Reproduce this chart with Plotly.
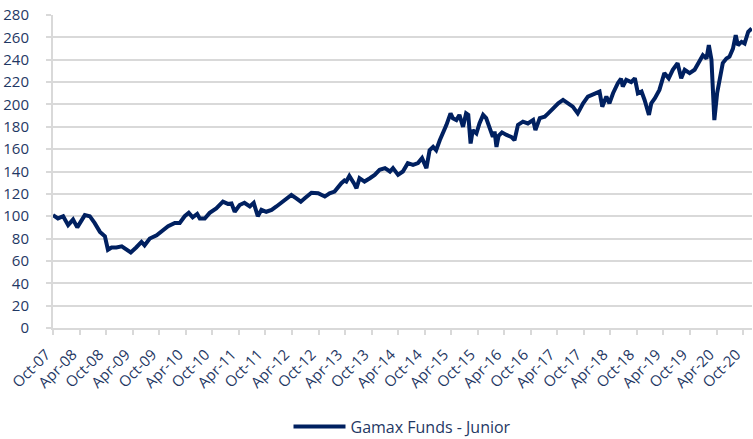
import plotly.graph_objects as go

dates = [
    "2007-10-01", "2007-11-04", "2007-12-10", "2008-01-13", "2008-02-16", "2008-03-16",
    "2008-05-07", "2008-06-10", "2008-07-13", "2008-08-19", "2008-09-22", "2008-10-13",
    "2008-11-07", "2008-12-10", "2009-01-16", "2009-02-19", "2009-03-19", "2009-04-25",
    "2009-06-01", "2009-06-22", "2009-07-28", "2009-09-13", "2009-10-16", "2009-12-01",
    "2010-01-16", "2010-02-19", "2010-03-25", "2010-04-22", "2010-05-19", "2010-06-19",
    "2010-07-07", "2010-08-10", "2010-09-13", "2010-10-28", "2010-12-13", "2011-01-16",
    "2011-02-10", "2011-03-04", "2011-04-07", "2011-05-10", "2011-06-16", "2011-07-13",
    "2011-08-10", "2011-09-04", "2011-10-07", "2011-11-13", "2011-12-16", "2012-02-01",
    "2012-03-28", "2012-05-01", "2012-06-01", "2012-06-28", "2012-08-13", "2012-09-28",
    "2012-11-13", "2012-12-16", "2013-01-19", "2013-03-07", "2013-03-28", "2013-04-10",
    "2013-05-01", "2013-06-01", "2013-06-19", "2013-07-10", "2013-08-13", "2013-09-19",
    "2013-10-22", "2013-11-25", "2014-01-01", "2014-02-04", "2014-02-25", "2014-04-01",
    "2014-05-04", "2014-06-07", "2014-07-13", "2014-08-16", "2014-09-13", "2014-10-13",
    "2014-11-04", "2014-11-28", "2014-12-19", "2015-01-13", "2015-02-04", "2015-02-28",
    "2015-03-28", "2015-04-13", "2015-05-07", "2015-05-28", "2015-06-22", "2015-07-13",
    "2015-07-28", "2015-08-13", "2015-08-28", "2015-09-22", "2015-10-13", "2015-11-07",
    "2015-11-28", "2015-12-22", "2016-01-13", "2016-01-25", "2016-02-07", "2016-02-22",
    "2016-03-16", "2016-04-16", "2016-05-19", "2016-06-10", "2016-07-04", "2016-08-07",
    "2016-09-10", "2016-10-16", "2016-11-01", "2016-12-01", "2017-01-04", "2017-01-28",
    "2017-03-01", "2017-04-07", "2017-05-10", "2017-06-13", "2017-07-16", "2017-08-19",
    "2017-09-25", "2017-10-28", "2017-12-13", "2018-01-16", "2018-02-04", "2018-03-04",
    "2018-03-25", "2018-04-19", "2018-05-22", "2018-06-13", "2018-06-25", "2018-07-19",
    "2018-08-22", "2018-09-16", "2018-10-07", "2018-11-01", "2018-11-22", "2018-12-22",
    "2019-01-07", "2019-02-01", "2019-03-04", "2019-04-07", "2019-05-07", "2019-06-04",
    "2019-07-07", "2019-08-01", "2019-08-25", "2019-09-28", "2019-11-01", "2019-12-04",
    "2019-12-28", "2020-01-22", "2020-02-07", "2020-02-25", "2020-03-07", "2020-03-16",
    "2020-04-04", "2020-04-22", "2020-05-13", "2020-06-07", "2020-06-28", "2020-07-22",
    "2020-08-10", "2020-08-25", "2020-09-19", "2020-10-10", "2020-11-04", "2020-11-28",
]

values = [
    101, 98, 100, 92, 97, 90,
    101, 100, 94, 86, 82, 70,
    72, 72, 73, 70, 67.6, 72,
    77, 74, 80, 83, 86, 91,
    94, 94, 100, 103, 99, 102,
    98, 98, 103, 107, 113, 111,
    111.5, 104, 110, 112, 108.7, 112,
    100, 105.7, 104, 105.7, 108.7, 113,
    119, 116, 113, 116, 121, 120.5,
    117.6, 120.5, 122, 129.6, 132, 131,
    136, 129.6, 125, 134, 131, 134,
    137, 141.5, 143, 140, 143, 137,
    140, 147.5, 146, 147.5, 152, 143,
    159, 162, 159, 168, 174, 181.7,
    192, 187.7, 186, 190.6, 180, 192,
    190.6, 165, 177, 174, 183, 190.6,
    187.7, 180, 171, 175.7, 162, 172,
    175, 172.7, 171, 168, 181.7, 184.6,
    183, 186, 177, 187.7, 189, 192,
    196.5, 201, 204, 201, 198, 192,
    201, 207, 210, 211.5, 198, 207,
    201, 210, 219, 223, 216, 222,
    220, 223.4, 210, 211.5, 204, 190.6,
    201, 205.5, 213, 228, 223.4, 231,
    236.8, 223.4, 231, 228, 231, 238,
    244, 241, 253, 240, 210, 186,
    210, 225, 237, 241, 242.7, 250,
    262, 253, 256, 254.5, 265, 268,
]

series_name = "Gamax Funds - Junior"

tick_dates = []
tick_labels = []
for yr in range(2007, 2021):
    for mo, lab in ((4, "Apr"), (10, "Oct")):
        if (yr == 2007 and mo == 4):
            continue
        tick_dates.append(f"{yr}-{mo:02d}-01")
        tick_labels.append(f"{lab}-{str(yr)[2:]}")

navy = "#1F3864"
grid = "#D9D9D9"
font_family = "Open Sans"

fig = go.Figure()
fig.add_trace(go.Scatter(
    x=dates, y=values, mode="lines", name=series_name,
    line=dict(color="#002060", width=4),
))

fig.update_layout(
    width=753, height=439,
    margin=dict(l=53, r=1, t=15, b=111, autoexpand=False),
    paper_bgcolor="white", plot_bgcolor="white",
    font=dict(family=font_family, size=15, color=navy),
    showlegend=True,
    legend=dict(orientation="h", x=0.5, xanchor="center", y=-0.315, yanchor="middle",
                font=dict(family=font_family, size=16, color=navy), itemwidth=52),
    xaxis=dict(
        type="date", range=["2007-10-01", "2020-11-30"],
        tickmode="array", tickvals=tick_dates, ticktext=tick_labels,
        tickangle=-45, ticks="outside", ticklen=5, tickwidth=2, tickcolor=grid,
        showline=True, linecolor=grid, linewidth=2, showgrid=False, zeroline=False,
        tickfont=dict(family=font_family, size=15, color=navy),
        automargin=False, ticklabelshift=-7, ticklabelstandoff=5,
    ),
    yaxis=dict(
        range=[0, 280], dtick=20, tick0=0,
        ticks="outside", ticklen=5, tickwidth=2, tickcolor=grid,
        showline=True, linecolor=grid, linewidth=2,
        showgrid=True, gridcolor=grid, gridwidth=2, zeroline=False,
        tickfont=dict(family=font_family, size=15, color=navy),
        ticklabelstandoff=14, automargin=False,
    ),
)

fig.write_html(
    "out.html",
    config={"displayModeBar": False},
    post_script="document.body.style.margin='0';document.body.style.overflow='hidden';",
)
